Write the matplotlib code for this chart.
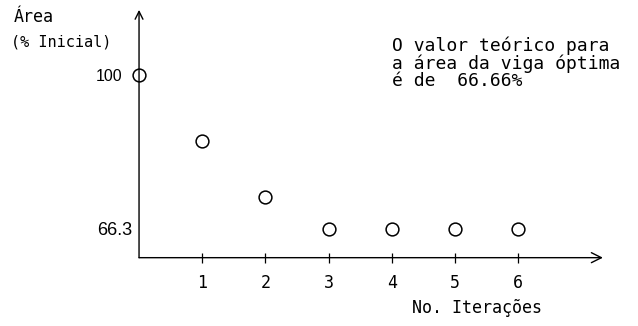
import matplotlib
matplotlib.use('Agg')
import matplotlib.pyplot as plt

# dados
iteracoes = [0, 1, 2, 3, 4, 5, 6]
area = [100, 85.6, 73.3, 66.3, 66.3, 66.3, 66.3]
xticks = [1, 2, 3, 4, 5, 6]
yticks = [100, 66.3]
ytick_labels = ['100', '66.3']

cad = ['DejaVu Sans Mono', 'DejaVu Sans']

fig = plt.figure(figsize=(6.38, 3.26), dpi=100)
ax = fig.add_axes([0, 0, 1, 1])

# limites escolhidos para a origem ficar no sitio certo
x_orig = 0
y_orig = 59.9
ax.set_xlim(-2.2, 7.895)
ax.set_ylim(44.9, 116.47)

ax.plot(iteracoes, area, 'o', mfc='none', mec='black', ms=9.2, mew=1.1)

# eixos com setas (os spines so servem para posicionar os ticks)
for s in ['top', 'right', 'left', 'bottom']:
    ax.spines[s].set_visible(False)
ax.spines['left'].set_position(('data', x_orig))
ax.spines['bottom'].set_position(('data', y_orig))
seta = dict(arrowstyle='->', lw=1.0, color='black', shrinkA=0, shrinkB=0)
ax.annotate('', xy=(x_orig, 114.3), xytext=(x_orig, y_orig),
            arrowprops=dict(seta, mutation_scale=14))
ax.annotate('', xy=(7.34, y_orig), xytext=(x_orig, y_orig),
            arrowprops=dict(seta, mutation_scale=18))

ax.set_xticks(xticks)
ax.set_xticklabels([str(t) for t in xticks], fontsize=12, family=cad)
ax.tick_params(axis='x', direction='inout', length=7, width=0.9, pad=8)
ax.set_yticks(yticks)
ax.tick_params(axis='y', length=0)
ytks = ax.yaxis.get_major_ticks()
ytks[0].set_pad(12)
ytks[1].set_pad(5)
ax.set_yticklabels(ytick_labels, family='Liberation Sans')
ylabs = ax.get_yticklabels()
ylabs[0].set_fontsize(11.5)
ylabs[1].set_fontsize(13)
ax.patch.set_visible(False)

ax.text(-1.99, 112.7, 'Área', fontsize=12, family=cad, va='center')
ax.text(-2.02, 107.2, '(% Inicial)', fontsize=11, family=cad, va='center')

ax.text(4.0, 102.6, 'O valor teórico para\na área da viga óptima\né de  66.66%',
        fontsize=13, family=cad, va='center', linespacing=0.92)

ax.text(4.32, 48.8, 'No. Iterações', fontsize=12, family=cad, va='center')

plt.savefig('out.png', dpi=100)
